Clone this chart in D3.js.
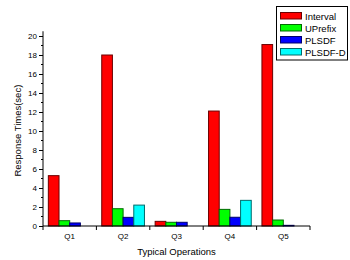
<!DOCTYPE html>
<html>
<head>
<meta charset="utf-8">
<script src="https://cdn.jsdelivr.net/npm/d3@7"></script>
<style>
  body { margin: 0; background: #fff; }
  svg { font-family: "Liberation Sans", Arial, sans-serif; }
</style>
</head>
<body>
<svg width="350" height="260"></svg>
<script>
// data
var categories = ["Q1", "Q2", "Q3", "Q4", "Q5"];
var seriesNames = ["Interval", "UPrefix", "PLSDF", "PLSDF-D"];
var interval = [5.3, 18.0, 0.49, 12.1, 19.1];
var uprefix = [0.56, 1.82, 0.39, 1.75, 0.63];
var plsdf = [0.32, 0.91, 0.39, 0.92, 0.07];
var plsdfD = [0, 2.2, 0, 2.7, 0];
var yTicks = [0, 2, 4, 6, 8, 10, 12, 14, 16, 18, 20];

var fills = ["#ff0000", "#00ff00", "#0000ff", "#00ffff"];
var strokes = ["#6b0000", "#006b00", "#00006b", "#006b6b"];
var values = [interval, uprefix, plsdf, plsdfD];

var svg = d3.select("svg");
var plotL = 43, plotR = 310, plotT = 31.25, plotB = 226;

var x = d3.scaleBand().domain(categories).range([plotL, plotR]).padding(0);
var y = d3.scaleLinear().domain([0, 20.5]).range([plotB, plotT]);
var inner = d3.scaleBand().domain(seriesNames).range([0, x.bandwidth()]).paddingOuter(0.5).paddingInner(0);

// bars
var g = svg.append("g");
categories.forEach(function(c, i) {
    seriesNames.forEach(function(s, j) {
        var v = values[j][i];
        if (v <= 0) return;
        g.append("rect")
            .attr("x", x(c) + inner(s))
            .attr("y", y(v))
            .attr("width", inner.bandwidth())
            .attr("height", y(0) - y(v))
            .attr("fill", fills[j])
            .attr("stroke", strokes[j])
            .attr("stroke-width", 1);
    });
});

// y axis
var yAxis = svg.append("g")
    .attr("transform", "translate(" + plotL + ",0)")
    .call(d3.axisLeft(y).tickValues(yTicks).tickSize(4).tickPadding(2));
yAxis.select(".domain").attr("d", "M0," + plotT + "V" + plotB).attr("stroke", "#000");
yAxis.selectAll("text").attr("font-size", 8).attr("fill", "#000");
// minor y ticks
svg.append("g").selectAll("line")
    .data(d3.range(1, 21, 2))
    .join("line")
    .attr("x1", plotL - 2).attr("x2", plotL)
    .attr("y1", function(d) { return y(d); })
    .attr("y2", function(d) { return y(d); })
    .attr("stroke", "#000");

// x axis
var xAxis = svg.append("g")
    .attr("transform", "translate(0," + plotB + ")")
    .call(d3.axisBottom(x).tickSize(0).tickPadding(7));
xAxis.select(".domain").attr("d", "M" + plotL + ",0H" + plotR).attr("stroke", "#000");
xAxis.selectAll("text").attr("font-size", 8).attr("fill", "#000");
var bounds = categories.map(function(c) { return x(c); }).concat([plotR]);
svg.append("g").selectAll("line")
    .data(bounds)
    .join("line")
    .attr("x1", function(d) { return d; }).attr("x2", function(d) { return d; })
    .attr("y1", plotB).attr("y2", plotB + 4)
    .attr("stroke", "#000");

// axis titles
svg.append("text")
    .attr("x", (plotL + plotR) / 2)
    .attr("y", 255)
    .attr("text-anchor", "middle")
    .attr("font-size", 9.5)
    .text("Typical Operations");

svg.append("text")
    .attr("transform", "translate(21," + ((plotT + plotB) / 2 + 2) + ") rotate(-90)")
    .attr("text-anchor", "middle")
    .attr("font-size", 9.5)
    .text("Response Times(sec)");

// legend
var legend = svg.append("g");
legend.append("rect")
    .attr("x", 276.5).attr("y", 6.5)
    .attr("width", 71).attr("height", 53.5)
    .attr("fill", "#fff").attr("stroke", "#000");
seriesNames.forEach(function(s, j) {
    var ly = 12 + j * 12;
    legend.append("rect")
        .attr("x", 280.5).attr("y", ly + 0.5)
        .attr("width", 21).attr("height", 6.5)
        .attr("fill", fills[j]).attr("stroke", strokes[j]);
    legend.append("text")
        .attr("x", 305).attr("y", ly + 7.5)
        .attr("font-size", 9.5)
        .text(s);
});
</script>
</body>
</html>
